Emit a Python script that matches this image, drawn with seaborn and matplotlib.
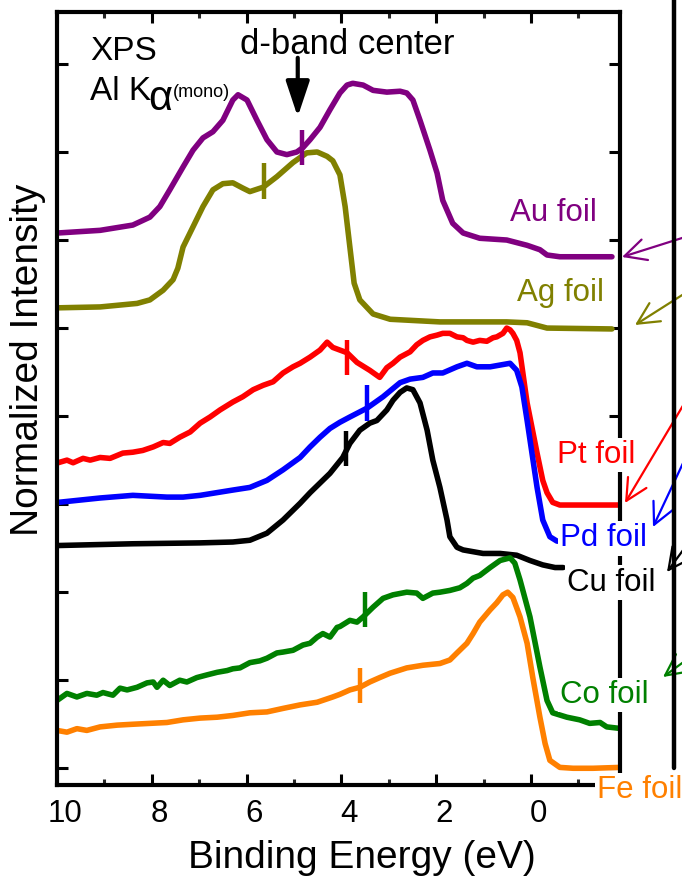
import numpy as np
import pandas as pd
import seaborn as sns
import matplotlib.pyplot as plt
from matplotlib.transforms import ScaledTranslation
from matplotlib.lines import Line2D
from matplotlib.patches import FancyArrowPatch

# ---------------- data ----------------
au_energy = [9.98, 9.09, 8.40, 8.04, 7.83, 7.62, 7.34, 7.13, 6.92, 6.71,
             6.50, 6.29, 6.18, 5.99, 5.78, 5.57, 5.36, 5.15, 4.94, 4.81,
             4.66, 4.45, 4.24, 4.03, 3.88, 3.76, 3.54, 3.33, 3.04, 2.76,
             2.62, 2.49, 2.34, 2.13, 1.98, 1.86, 1.65, 1.43, 1.08, 0.51,
             0.08, -0.19, -0.34, -0.61, -1.71]
au_intensity = [6.08, 6.11, 6.17, 6.26, 6.38, 6.57, 6.83, 7.02, 7.16, 7.23,
                7.36, 7.59, 7.65, 7.59, 7.36, 7.14, 7.00, 6.97, 7.00, 7.05,
                7.14, 7.28, 7.48, 7.67, 7.76, 7.78, 7.76, 7.70, 7.68, 7.69,
                7.67, 7.59, 7.36, 7.02, 6.76, 6.45, 6.19, 6.08, 6.02, 6.00,
                5.94, 5.89, 5.83, 5.81, 5.81]

ag_energy = [9.98, 9.09, 8.31, 8.04, 7.76, 7.55, 7.45, 7.34, 7.13, 6.92,
             6.71, 6.50, 6.29, 6.08, 5.93, 5.65, 5.36, 5.02, 4.73, 4.51,
             4.30, 4.18, 4.03, 3.92, 3.82, 3.73, 3.61, 3.33, 2.97, 1.92,
             0.51, 0.08, -0.34, -1.71]
ag_intensity = [5.23, 5.24, 5.28, 5.32, 5.43, 5.55, 5.68, 5.92, 6.15, 6.38,
                6.57, 6.64, 6.65, 6.59, 6.55, 6.60, 6.72, 6.88, 6.99, 7.00,
                6.95, 6.90, 6.74, 6.38, 5.92, 5.51, 5.32, 5.16, 5.10, 5.07,
                5.07, 5.06, 5.00, 4.99]

pt_energy = [9.98, 9.79, 9.66, 9.45, 9.30, 9.09, 8.88, 8.61, 8.40, 8.19,
             7.97, 7.76, 7.62, 7.41, 7.19, 6.98, 6.77, 6.56, 6.29, 6.08,
             5.86, 5.65, 5.44, 5.23, 5.02, 4.87, 4.66, 4.45, 4.30, 4.18,
             4.03, 3.88, 3.67, 3.40, 3.19, 3.04, 2.91, 2.76, 2.55, 2.41,
             2.28, 2.13, 1.98, 1.86, 1.71, 1.56, 1.43, 1.35, 1.22, 1.08,
             0.93, 0.80, 0.72, 0.59, 0.51, 0.44, 0.38, 0.30, 0.23, 0.08,
             -0.13, -0.25, -0.34, -0.46, -0.61, -0.89, -1.88]
pt_intensity = [3.47, 3.50, 3.47, 3.52, 3.50, 3.53, 3.52, 3.58, 3.59, 3.61,
                3.65, 3.70, 3.69, 3.76, 3.82, 3.92, 3.99, 4.07, 4.16, 4.22,
                4.30, 4.35, 4.39, 4.49, 4.56, 4.60, 4.67, 4.75, 4.84, 4.78,
                4.75, 4.72, 4.61, 4.52, 4.44, 4.55, 4.60, 4.67, 4.73, 4.81,
                4.86, 4.90, 4.92, 4.94, 4.94, 4.90, 4.89, 4.86, 4.84, 4.86,
                4.85, 4.89, 4.90, 4.94, 5.00, 4.98, 4.94, 4.86, 4.72, 4.15,
                3.58, 3.27, 3.13, 3.02, 2.99, 2.99, 2.99]

pd_energy = [9.98, 9.09, 8.40, 7.68, 7.34, 6.98, 6.29, 5.93, 5.57, 5.23,
             4.87, 4.66, 4.45, 4.24, 4.03, 3.82, 3.46, 3.12, 2.76, 2.55,
             2.28, 2.07, 1.86, 1.56, 1.35, 1.14, 0.86, 0.65, 0.44, 0.30,
             0.19, 0.08, -0.13, -0.25, -0.40, -0.55, -0.65]
pd_intensity = [3.02, 3.07, 3.10, 3.08, 3.08, 3.10, 3.16, 3.19, 3.27, 3.39,
                3.53, 3.65, 3.76, 3.86, 3.93, 3.99, 4.09, 4.22, 4.38, 4.42,
                4.44, 4.49, 4.49, 4.56, 4.60, 4.56, 4.56, 4.58, 4.60, 4.52,
                4.33, 3.95, 3.19, 2.82, 2.63, 2.58, 2.58]

cu_energy = [9.98, 8.40, 6.98, 6.29, 5.93, 5.57, 5.23, 4.87, 4.66, 4.45,
             4.24, 3.97, 3.82, 3.61, 3.40, 3.25, 3.04, 2.91, 2.76, 2.62,
             2.49, 2.34, 2.19, 2.07, 1.92, 1.77, 1.71, 1.56, 1.43, 1.01,
             0.65, 0.30, 0.02, -0.25, -0.51, -0.68]
cu_intensity = [2.53, 2.55, 2.56, 2.57, 2.59, 2.67, 2.82, 3.01, 3.13, 3.24,
                3.35, 3.53, 3.69, 3.84, 3.92, 3.95, 4.07, 4.18, 4.27, 4.32,
                4.30, 4.15, 3.84, 3.50, 3.19, 2.82, 2.63, 2.51, 2.48, 2.44,
                2.44, 2.42, 2.36, 2.31, 2.28, 2.28]

co_energy = [10.00, 9.79, 9.58, 9.37, 9.16, 9.03, 8.82, 8.67, 8.52, 8.31,
             8.10, 7.97, 7.89, 7.76, 7.62, 7.41, 7.26, 7.05, 6.84, 6.62,
             6.41, 6.29, 6.14, 5.93, 5.72, 5.57, 5.36, 5.23, 5.02, 4.81,
             4.66, 4.51, 4.39, 4.24, 4.09, 4.03, 3.82, 3.67, 3.54, 3.33,
             3.12, 2.91, 2.62, 2.41, 2.28, 2.07, 1.92, 1.71, 1.50, 1.35,
             1.22, 1.08, 0.86, 0.65, 0.44, 0.34, 0.23, 0.02, -0.19, -0.34,
             -0.46, -0.76, -1.03, -1.24, -1.46, -1.60, -1.92]
co_intensity = [0.77, 0.85, 0.81, 0.85, 0.83, 0.86, 0.83, 0.91, 0.89, 0.92,
                0.97, 0.98, 0.92, 1.00, 0.94, 1.00, 0.98, 1.03, 1.06, 1.09,
                1.11, 1.13, 1.14, 1.20, 1.22, 1.25, 1.31, 1.32, 1.34, 1.40,
                1.42, 1.49, 1.53, 1.49, 1.60, 1.61, 1.68, 1.66, 1.72, 1.83,
                1.93, 1.97, 2.00, 1.99, 1.93, 1.99, 2.00, 2.02, 2.05, 2.10,
                2.16, 2.19, 2.28, 2.36, 2.39, 2.33, 2.14, 1.72, 1.15, 0.77,
                0.63, 0.58, 0.55, 0.51, 0.52, 0.47, 0.45]

fe_energy = [10.00, 9.79, 9.58, 9.37, 9.09, 8.73, 8.40, 8.04, 7.68, 7.34,
             6.98, 6.62, 6.29, 5.93, 5.57, 5.23, 4.87, 4.51, 4.18, 4.03,
             3.82, 3.61, 3.40, 3.19, 2.97, 2.62, 2.28, 1.92, 1.71, 1.56,
             1.35, 1.22, 1.08, 0.86, 0.72, 0.59, 0.49, 0.38, 0.23, 0.08,
             -0.04, -0.19, -0.30, -0.40, -0.61, -0.89, -1.31, -1.88]
fe_intensity = [0.43, 0.41, 0.45, 0.43, 0.47, 0.49, 0.50, 0.51, 0.52, 0.55,
                0.57, 0.58, 0.60, 0.63, 0.64, 0.68, 0.72, 0.75, 0.81, 0.84,
                0.89, 0.92, 0.98, 1.03, 1.08, 1.14, 1.17, 1.19, 1.23, 1.31,
                1.42, 1.53, 1.66, 1.80, 1.88, 1.97, 2.00, 1.94, 1.72, 1.42,
                1.03, 0.58, 0.28, 0.09, 0.01, 0.00, 0.00, 0.01]

foils = ["Au foil", "Ag foil", "Pt foil", "Pd foil", "Cu foil", "Co foil", "Fe foil"]
dband_energy = [4.83, 5.63, 3.88, 3.46, 3.90, 3.50, 3.61]
dband_intensity = [7.05, 6.67, 4.67, 4.15, 3.63, 1.80, 0.94]
xtick_values = [10, 8, 6, 4, 2, 0]
xtick_labels = ["10", "8", "6", "4", "2", "0"]

# ---------------- styling ----------------
colors = {"Au foil": "#800080", "Ag foil": "#808000", "Pt foil": "#ff0000",
          "Pd foil": "#0000ff", "Cu foil": "#000000", "Co foil": "#008000",
          "Fe foil": "#ff8000"}
label_pos = {"Au foil": (0.44, 6.31), "Ag foil": (0.30, 5.40), "Pt foil": (-0.55, 3.56),
             "Pd foil": (-0.61, 2.61), "Cu foil": (-0.76, 2.11), "Co foil": (-0.61, 0.83),
             "Fe foil": (-1.39, -0.25)}

sns.set_theme(style="ticks")
plt.rcParams["font.family"] = ["Liberation Sans", "DejaVu Sans"]

series = [(au_energy, au_intensity), (ag_energy, ag_intensity), (pt_energy, pt_intensity),
          (pd_energy, pd_intensity), (cu_energy, cu_intensity), (co_energy, co_intensity),
          (fe_energy, fe_intensity)]
frames = []
for name, (e, i) in zip(foils, series):
    frames.append(pd.DataFrame({"energy": e, "intensity": i, "foil": name}))
df = pd.concat(frames, ignore_index=True)

fig = plt.figure(figsize=(6.82, 8.77), dpi=100)
ax = fig.add_axes([57 / 682, 1 - 785 / 877, 563 / 682, 773 / 877])

sns.lineplot(data=df, x="energy", y="intensity", hue="foil", hue_order=foils,
             palette=colors, sort=False, estimator=None, legend=False, ax=ax,
             linewidth=4.0, solid_joinstyle="round", solid_capstyle="round")

# d-band center markers
for name, e, i in zip(foils, dband_energy, dband_intensity):
    ax.vlines(e, i - 0.2, i + 0.2, color=colors[name], linewidth=3.2, zorder=4)

ax.set_xlim(10, -1.88)
ax.set_ylim(-0.19, 8.59)
ax.set_xticks(xtick_values)
ax.set_xticklabels(xtick_labels)
ax.set_xticks([9, 7, 5, 3, 1, -1], minor=True)
ax.set_yticks(range(0, 9))
ax.set_yticklabels([])
ax.tick_params(axis="both", which="major", direction="in", length=8, width=2.2,
               top=True, right=True, labelsize=22.5, pad=10, colors="black")
ax.tick_params(axis="both", which="minor", direction="in", length=4, width=2.2,
               top=True, right=True)
for sp in ax.spines.values():
    sp.set_linewidth(3)
    sp.set_color("black")
for lab in ax.get_xticklabels():
    lab.set_transform(lab.get_transform() + ScaledTranslation(8 / 100, 0, fig.dpi_scale_trans))

ax.set_xlabel("Binding Energy (eV)", fontsize=28, color="black")
ax.xaxis.set_label_coords(0.542, -0.071)
ax.set_ylabel("Normalized Intensity", fontsize=28, color="black")
ax.yaxis.set_label_coords(-0.02, 0.55)

# foil labels
for name in foils:
    x, y = label_pos[name]
    ax.text(x, y, name, color=colors[name], fontsize=22.5, ha="left", va="center",
            zorder=10, clip_on=False,
            bbox=dict(facecolor="white", edgecolor="none", pad=1.5))

# annotations
ax.text(9.30, 8.14, "XPS", fontsize=24, ha="left", va="center", color="black")
ax.text(9.30, 7.59, "Al K", fontsize=24, ha="left", va="baseline", color="black")
ax.text(8.08, 7.48, "\u03b1", fontsize=30, ha="left", va="baseline", color="black")
ax.text(7.55, 7.63, "(mono)", fontsize=13, ha="left", va="baseline", color="black")
ax.text(3.88, 8.22, "d-band center", fontsize=25, ha="center", va="center", color="black")
ax.annotate("", xy=(4.92, 7.40), xytext=(4.92, 8.07),
            arrowprops=dict(arrowstyle="-|>,head_length=1.2,head_width=0.4",
                            color="black", lw=3, mutation_scale=18, shrinkA=0, shrinkB=0))

# elements of the neighbouring panel at the right edge
fig.add_artist(Line2D([674 / 682, 674 / 682], [1 - 768 / 877, 1.0], transform=fig.transFigure,
                      color="black", linewidth=3.2))
arrows = [("Au foil", (622, 620), (720, 651)), ("Ag foil", (635, 552), (720, 606)),
          ("Pt foil", (625, 374), (700, 500)), ("Pd foil", (653, 350), (700, 450)),
          ("Cu foil", (667, 305), (700, 350)), ("Co foil", (663, 200), (700, 227))]
for name, tip, tail in arrows:
    arr = FancyArrowPatch(posA=(tail[0] / 682, tail[1] / 877), posB=(tip[0] / 682, tip[1] / 877),
                          transform=fig.transFigure, arrowstyle="->,head_length=0.7,head_width=0.35",
                          mutation_scale=22, color=colors[name], linewidth=1.6,
                          shrinkA=0, shrinkB=0)
    fig.add_artist(arr)

fig.savefig("out.png", dpi=100)
